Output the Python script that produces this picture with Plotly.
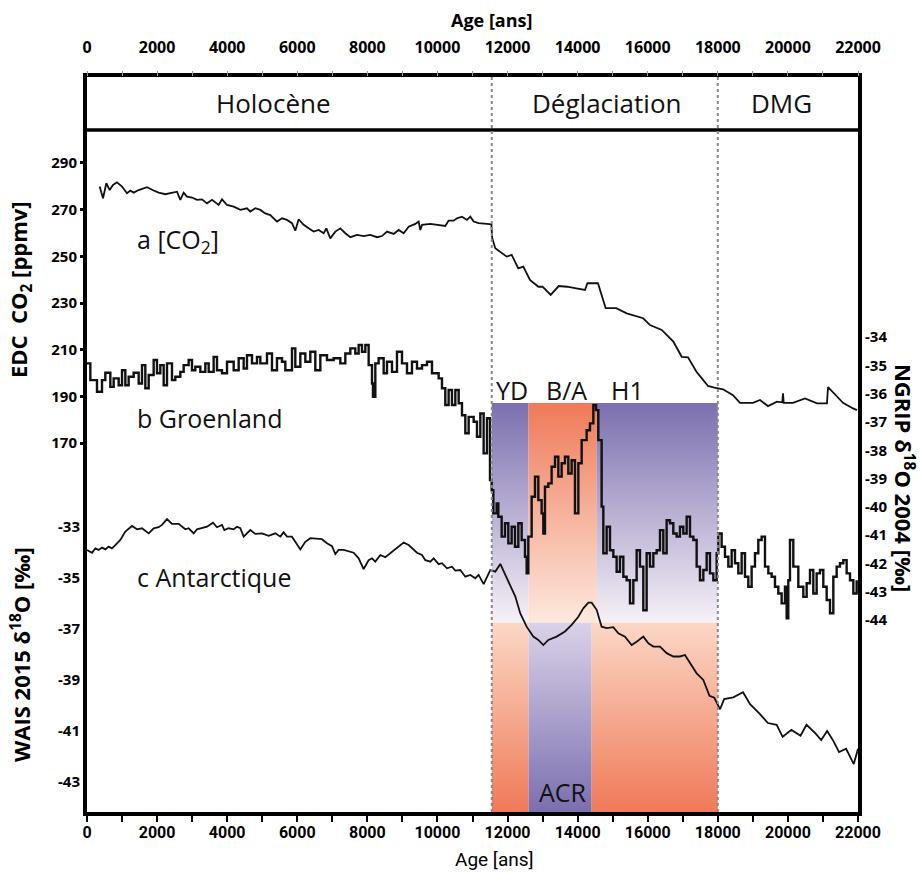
import plotly.graph_objects as go

# ---------------- data ----------------
co2_age = [361, 457, 552, 647, 742, 856, 999, 1141, 1236, 1332,
           1474, 1712, 1902, 2045, 2235, 2425, 2568, 2663, 2758, 2853,
           2996, 3139, 3281, 3424, 3567, 3757, 3852, 3995, 4185, 4375,
           4565, 4660, 4803, 4946, 5088, 5231, 5421, 5564, 5707, 5849,
           5944, 6039, 6182, 6325, 6467, 6610, 6753, 6829, 6943, 7086,
           7228, 7371, 7514, 7704, 7894, 8084, 8275, 8417, 8560, 8750,
           8893, 9035, 9178, 9368, 9463, 9511, 9559, 9796, 10082, 10224,
           10319, 10462, 10557, 10700, 10843, 10938, 11033, 11175, 11413, 11540,
           11560, 11650, 11976, 12118, 12307, 12450, 12640, 12880, 13000, 13230,
           13460, 13700, 14000, 14210, 14280, 14580, 14800, 15100, 15400, 15870,
           16065, 16400, 16730, 16970, 17150, 17390, 17580, 17720, 17900, 18148,
           18433, 18633, 19004, 19204, 19432, 19688, 19840, 19860, 19880, 20145,
           20487, 20830, 21115, 21144, 21401, 21572, 21858, 21972]
co2_ppm = [279.9, 274.9, 281.3, 278.4, 280.6, 281.7, 279.9, 277.0, 278.2, 277.3,
           278.4, 279.6, 278.2, 277.3, 276.6, 277.3, 277.7, 274.2, 277.3, 275.6,
           275.2, 274.2, 274.4, 272.7, 274.2, 272.0, 274.4, 272.0, 271.3, 269.9,
           270.6, 269.2, 270.6, 269.9, 268.4, 267.7, 264.9, 266.3, 265.6, 264.2,
           261.0, 265.9, 263.5, 262.0, 260.6, 261.3, 259.9, 262.0, 257.7, 260.6,
           262.0, 259.9, 258.2, 259.2, 258.7, 259.2, 258.2, 258.7, 260.6, 259.6,
           261.3, 259.9, 262.7, 263.9, 264.9, 261.3, 263.5, 263.9, 263.5, 263.0,
           265.3, 265.3, 266.3, 267.0, 265.6, 267.0, 264.9, 264.2, 263.9, 263.7,
           258.0, 253.5, 249.9, 250.6, 244.9, 245.6, 239.9, 237.0, 237.0, 233.5,
           237.3, 237.0, 236.2, 235.6, 238.5, 238.5, 227.8, 227.8, 225.6, 223.5,
           220.6, 218.5, 213.5, 207.0, 206.8, 200.6, 197.1, 194.5, 193.8, 193.1,
           190.6, 187.3, 187.3, 188.5, 185.9, 187.8, 187.5, 191.4, 187.3, 187.3,
           189.2, 187.1, 187.1, 194.0, 190.0, 187.3, 184.9, 184.2]

ngrip_age = [0, 95, 285, 428, 523, 666, 761, 904, 999, 1094,
             1189, 1332, 1474, 1569, 1664, 1760, 1902, 1997, 2092, 2188,
             2283, 2425, 2520, 2663, 2758, 2901, 2996, 3091, 3234, 3376,
             3472, 3614, 3709, 3852, 3995, 4185, 4328, 4470, 4565, 4708,
             4851, 4946, 5136, 5279, 5421, 5564, 5659, 5849, 5944, 6087,
             6230, 6372, 6515, 6658, 6848, 7038, 7228, 7371, 7514, 7656,
             7751, 7846, 7942, 8037, 8132, 8160, 8227, 8322, 8465, 8560,
             8703, 8845, 8988, 9131, 9273, 9416, 9559, 9701, 9844, 10034,
             10129, 10224, 10319, 10414, 10510, 10605, 10700, 10795, 10890, 11033,
             11128, 11223, 11318, 11413, 11499, 11547, 11594, 11689, 11737, 11832,
             11927, 12022, 12117, 12212, 12308, 12403, 12498, 12545, 12593, 12688,
             12783, 12878, 12973, 13021, 13068, 13164, 13258, 13354, 13449, 13544,
             13639, 13734, 13829, 13924, 14020, 14115, 14257, 14352, 14448, 14524,
             14590, 14685, 14733, 14828, 14923, 15018, 15113, 15208, 15304, 15399,
             15494, 15589, 15684, 15779, 15874, 15969, 16064, 16160, 16255, 16350,
             16445, 16540, 16635, 16730, 16825, 16920, 17015, 17111, 17206, 17301,
             17396, 17491, 17586, 17681, 17776, 17872, 17967, 18014, 18109, 18204,
             18300, 18395, 18490, 18585, 18680, 18775, 18870, 18965, 19060, 19155,
             19250, 19346, 19441, 19536, 19631, 19726, 19821, 19916, 19964, 20011,
             20059, 20154, 20297, 20440, 20535, 20630, 20725, 20820, 20915, 21010,
             21106, 21201, 21296, 21391, 21486, 21581, 21676, 21772, 21867, 21962]
ngrip_d18o = [-34.93, -35.52, -35.93, -35.52, -35.26, -35.76, -35.46, -35.70, -35.17, -35.70,
              -35.40, -35.26, -35.64, -34.99, -35.81, -35.34, -34.81, -35.28, -34.99, -35.70,
              -34.93, -35.52, -35.40, -35.23, -34.99, -34.81, -35.17, -35.05, -35.23, -34.93,
              -35.23, -34.70, -35.17, -35.28, -34.87, -35.17, -34.75, -35.11, -34.64, -34.93,
              -34.70, -34.93, -34.58, -35.17, -34.75, -34.87, -35.17, -34.40, -35.05, -34.58,
              -34.87, -34.52, -35.17, -34.64, -34.81, -34.75, -34.93, -34.58, -34.40, -34.58,
              -34.28, -34.52, -34.28, -34.99, -35.64, -36.11, -34.93, -34.75, -35.28, -34.87,
              -35.23, -34.52, -34.93, -35.28, -34.87, -35.11, -34.99, -34.87, -35.28, -35.46,
              -35.81, -36.40, -35.87, -36.40, -35.87, -36.34, -36.76, -37.40, -36.82, -36.99,
              -37.52, -36.70, -38.11, -36.87, -39.05, -39.41, -40.23, -39.88, -40.35, -41.05,
              -40.58, -41.29, -40.70, -41.41, -40.58, -41.17, -41.76, -42.35, -41.05, -39.64,
              -38.93, -39.76, -40.23, -40.94, -39.29, -39.17, -38.58, -38.23, -38.93, -38.46,
              -38.23, -38.82, -38.35, -40.23, -38.46, -37.64, -37.29, -37.05, -36.40, -36.58,
              -37.64, -39.99, -41.64, -40.70, -41.53, -41.76, -42.29, -41.76, -42.47, -42.59,
              -43.41, -42.59, -41.53, -42.11, -43.65, -41.64, -42.11, -41.64, -41.53, -40.82,
              -41.64, -40.47, -40.58, -40.94, -41.05, -40.70, -40.94, -40.35, -41.05, -41.17,
              -42.11, -42.59, -42.23, -41.64, -42.35, -42.59, -41.64, -40.94, -41.41, -41.76,
              -42.11, -41.53, -41.99, -42.35, -41.64, -42.47, -42.82, -42.11, -41.64, -41.17,
              -41.05, -42.11, -42.35, -42.47, -42.82, -43.06, -43.41, -42.82, -43.94, -42.59,
              -41.17, -42.11, -42.82, -43.18, -42.70, -42.23, -43.06, -42.35, -42.23, -42.82,
              -43.29, -43.76, -42.47, -42.11, -41.99, -41.88, -42.35, -42.59, -43.06, -42.59]

wais_age = [0, 143, 238, 333, 428, 523, 618, 713, 808, 951,
            1094, 1284, 1427, 1569, 1760, 1902, 2045, 2140, 2283, 2425,
            2616, 2806, 2901, 3044, 3139, 3281, 3424, 3595, 3709, 3852,
            3919, 4042, 4185, 4280, 4375, 4470, 4660, 4803, 4993, 5183,
            5374, 5516, 5611, 5707, 5849, 6087, 6230, 6372, 6563, 6705,
            6848, 6991, 7086, 7181, 7323, 7466, 7609, 7751, 7894, 8037,
            8132, 8227, 8370, 8512, 8655, 8845, 9035, 9178, 9321, 9416,
            9559, 9654, 9796, 9892, 10034, 10129, 10272, 10414, 10510, 10652,
            10795, 10938, 11080, 11175, 11318, 11413, 11508, 11651, 11794, 11937,
            12079, 12222, 12364, 12545, 12735, 12878, 13021, 13164, 13401, 13639,
            13829, 14020, 14162, 14305, 14400, 14543, 14685, 14828, 15018, 15161,
            15351, 15541, 15684, 15874, 16018, 16160, 16350, 16540, 16730, 16920,
            17063, 17206, 17396, 17586, 17762, 17900, 18063, 18180, 18440, 18720,
            18920, 19170, 19430, 19680, 19850, 20100, 20360, 20530, 20780, 20950,
            21120, 21300, 21460, 21660, 21880, 22000]
wais_d18o = [-33.90, -34.01, -33.84, -33.90, -33.81, -33.88, -33.77, -33.84, -33.71, -33.51,
             -33.18, -32.96, -33.09, -33.05, -33.25, -33.05, -33.01, -32.92, -32.69, -32.88,
             -32.88, -33.09, -33.05, -33.25, -33.09, -33.05, -32.99, -32.83, -33.01, -32.92,
             -33.12, -33.05, -33.09, -32.99, -33.05, -33.38, -33.12, -33.27, -33.25, -33.35,
             -33.25, -33.38, -33.21, -33.38, -33.38, -33.88, -33.58, -33.44, -33.47, -33.48,
             -33.64, -33.75, -34.06, -33.90, -33.90, -33.97, -34.01, -34.23, -34.65, -34.30,
             -34.23, -34.36, -34.10, -34.19, -34.03, -33.84, -33.61, -33.71, -33.90, -34.01,
             -34.10, -34.30, -34.36, -34.23, -34.46, -34.42, -34.62, -34.56, -34.71, -34.69,
             -34.95, -34.88, -35.01, -34.88, -35.24, -34.95, -34.69, -34.75, -34.45, -34.88,
             -35.27, -35.73, -36.39, -36.91, -37.30, -37.43, -37.63, -37.43, -37.30, -37.10,
             -36.84, -36.52, -36.19, -35.97, -35.97, -36.25, -36.91, -36.97, -36.93, -37.17,
             -37.30, -37.63, -37.50, -37.30, -37.56, -37.69, -37.69, -37.95, -38.08, -38.08,
             -38.02, -38.35, -38.74, -39.00, -39.62, -39.70, -40.15, -39.75, -39.68, -39.48,
             -39.95, -40.29, -40.69, -40.76, -41.23, -40.96, -41.19, -40.76, -41.09, -41.36,
             -41.00, -41.40, -41.83, -41.70, -42.30, -41.70]

age_ticks = [0, 2000, 4000, 6000, 8000, 10000, 12000, 14000, 16000, 18000, 20000, 22000]
age_tick_text = ["0", "2000", "4000", "6000", "8000", "10000", "12000", "14000",
                 "16000", "18000", "20000", "22000"]
co2_ticks = [170, 190, 210, 230, 250, 270, 290]
wais_ticks = [-43, -41, -39, -37, -35, -33]
wais_tick_text = ["-43", "-41", "-39", "-37", "-35", "-33"]
ngrip_ticks = [-44, -43, -42, -41, -40, -39, -38, -37, -36, -35, -34]
ngrip_tick_text = ["-44", "-43", "-42", "-41", "-40", "-39", "-38", "-37", "-36", "-35", "-34"]

period_names = ["Holocène", "Déglaciation", "DMG"]
period_bounds = [0, 11550, 18000, 22000]

greenland_names = ["YD", "B/A", "H1"]
greenland_bounds = [11550, 12600, 14550, 18000]
antarctic_names = ["", "ACR", ""]
antarctic_bounds = [11550, 12600, 14400, 18000]

# ---------------- styling ----------------
X_RANGE = [0, 22000]
CO2_RANGE = [12.1, 326.8]
WAIS_RANGE = [-44.18, -15.35]
NGRIP_RANGE = [-50.78, -24.81]

PURPLE = "rgb(123,111,175)"
ORANGE = "rgb(239,122,88)"


def to_co2(v, rng):
    """map a value of another y axis onto the base (CO2) axis"""
    f = (v - rng[0]) / (rng[1] - rng[0])
    return CO2_RANGE[0] + f * (CO2_RANGE[1] - CO2_RANGE[0])


G_TOP, G_BOT = to_co2(-36.33, NGRIP_RANGE), to_co2(-44.11, NGRIP_RANGE)
A_TOP, A_BOT = to_co2(-36.76, WAIS_RANGE), CO2_RANGE[0]

greenland_scales = [
    [[0, "rgb(247,241,247)"], [1, PURPLE]],
    [[0, "rgb(253,233,223)"], [1, ORANGE]],
    [[0, "rgb(247,241,247)"], [1, PURPLE]],
]
antarctic_scales = [
    [[0, ORANGE], [1, "rgb(251,215,197)"]],
    [[0, PURPLE], [1, "rgb(218,210,232)"]],
    [[0, ORANGE], [1, "rgb(251,215,197)"]],
]

fig = go.Figure()

for i in range(3):
    x0, x1 = greenland_bounds[i], greenland_bounds[i + 1]
    fig.add_trace(go.Scatter(
        x=[x0, x1, x1, x0, x0], y=[G_BOT, G_BOT, G_TOP, G_TOP, G_BOT],
        mode="lines", line=dict(width=0), fill="toself",
        fillgradient=dict(type="vertical", colorscale=greenland_scales[i]),
        hoverinfo="skip", showlegend=False))
for i in range(3):
    x0, x1 = antarctic_bounds[i], antarctic_bounds[i + 1]
    fig.add_trace(go.Scatter(
        x=[x0, x1, x1, x0, x0], y=[A_BOT, A_BOT, A_TOP, A_TOP, A_BOT],
        mode="lines", line=dict(width=0), fill="toself",
        fillgradient=dict(type="vertical", colorscale=antarctic_scales[i]),
        hoverinfo="skip", showlegend=False))

fig.add_trace(go.Scatter(x=co2_age, y=co2_ppm, mode="lines",
                         line=dict(color="#111", width=1.8), showlegend=False))
fig.add_trace(go.Scatter(x=wais_age, y=wais_d18o, mode="lines", yaxis="y2",
                         line=dict(color="#111", width=1.8), showlegend=False))
fig.add_trace(go.Scatter(x=ngrip_age, y=ngrip_d18o, mode="lines", yaxis="y3",
                         line=dict(color="#111", width=2.4, shape="hv"), showlegend=False))
fig.add_trace(go.Scatter(x=[0], y=[None], xaxis="x2", mode="lines",
                         showlegend=False, hoverinfo="skip"))

BOLD = dict(family="Open Sans, sans-serif", size=15, color="black", weight="bold")
TOP_BOLD = dict(family="Open Sans, sans-serif", size=16, color="black", weight="bold")
NARROW_BOLD = dict(family="Roboto, sans-serif", size=16, color="black", weight="bold")
LABEL = dict(family="Open Sans, sans-serif", size=25, color="#111")

fig.update_layout(
    width=924, height=873,
    margin=dict(l=87, r=66, t=77, b=61, autoexpand=False),
    plot_bgcolor="white", paper_bgcolor="white",
    xaxis=dict(range=X_RANGE, tickvals=age_ticks, ticktext=age_tick_text,
               showgrid=False, zeroline=False,
               showline=True, linewidth=4, linecolor="black", mirror=True,
               ticks="outside", ticklen=6, tickwidth=2, tickcolor="black",
               minor=dict(dtick=1000, tick0=0, ticks="outside", ticklen=6, tickwidth=2,
                          tickcolor="black", showgrid=False),
               tickfont=NARROW_BOLD, ticklabelstandoff=-3),
    xaxis2=dict(range=X_RANGE, overlaying="x", side="top", tickvals=age_ticks,
                ticktext=age_tick_text,
                showgrid=False, zeroline=False, showline=False,
                ticks="outside", ticklen=5, tickwidth=1, tickcolor="#999",
                minor=dict(dtick=1000, tick0=0, ticks="outside", ticklen=5, tickwidth=1,
                           tickcolor="#999", showgrid=False),
                tickfont=TOP_BOLD, ticklabelstandoff=12),
    yaxis=dict(range=CO2_RANGE, tickvals=co2_ticks, showgrid=False, zeroline=False,
               showline=True, linewidth=4, linecolor="black", mirror=True,
               ticks="outside", ticklen=3, tickwidth=3, tickcolor="black",
               tickfont=BOLD),
    yaxis2=dict(range=WAIS_RANGE, tickvals=wais_ticks, ticktext=wais_tick_text,
                overlaying="y", side="left",
                showgrid=False, zeroline=False, showline=False,
                ticks="outside", ticklen=3, tickwidth=3, tickcolor="black",
                tickfont=BOLD),
    yaxis3=dict(range=NGRIP_RANGE, tickvals=ngrip_ticks, ticktext=ngrip_tick_text,
                overlaying="y", side="right",
                showgrid=False, zeroline=False, showline=False,
                ticks="outside", ticklen=3, tickwidth=3, tickcolor="black",
                tickfont=BOLD),
)

shapes = []
shapes.append(dict(type="line", xref="paper", yref="paper", x0=0, x1=1,
                   y0=0.9279, y1=0.9279, line=dict(color="black", width=3.5)))
for b in period_bounds[1:-1]:
    shapes.append(dict(type="line", xref="x", yref="paper", x0=b, x1=b, y0=0, y1=1,
                       line=dict(color="#8a8a8a", width=2, dash="dot"), layer="above"))
fig.update_layout(shapes=shapes)


def note(text, x, y, xref="paper", font=LABEL, xanchor="center", angle=0):
    return dict(text=text, x=x, xref=xref, y=y, yref="paper", showarrow=False,
                xanchor=xanchor, yanchor="middle", textangle=angle, font=font)


ann = []
period_centers = [5331, 14829, 19831]
HEAD = dict(family="Open Sans, sans-serif", size=26, color="#111")
for name, xc in zip(period_names, period_centers):
    ann.append(note(name, xc, 0.9646, xref="x", font=HEAD))
ann.append(note("a [CO<sub>2</sub>]", 1370, 0.7769, xref="x", xanchor="left"))
ann.append(note("b Groenland", 1370, 0.5361, xref="x", xanchor="left"))
ann.append(note("c Antarctique", 1370, 0.3197, xref="x", xanchor="left"))
event_label_x = [12113, 13682, 15423]
for name, xc in zip(greenland_names, event_label_x):
    ann.append(note(name, xc, 0.5741, xref="x"))
ann.append(note(antarctic_names[1], 13582, 0.0272, xref="x"))
ann.append(note("Age [ans]", 0.524, 1.0776,
                font=dict(family="Open Sans, sans-serif", size=18, color="black", weight="bold")))
ann.append(note("Age [ans]", 0.528, -0.0640,
                font=dict(family="Roboto, sans-serif", size=19, color="black")))
TITLE = dict(family="Open Sans, sans-serif", size=22, color="black", weight="bold")
ann.append(note("EDC  CO<sub>2</sub> [ppmv]", -0.0869, 0.7102, font=TITLE, angle=-90))
ann.append(note("WAIS 2015 δ<sup>18</sup>O [‰]", -0.0869, 0.2136, font=TITLE, angle=-90))
ann.append(note("NGRIP δ<sup>18</sup>O 2004 [‰]", 1.061, 0.4544, font=TITLE, angle=90))
fig.update_layout(annotations=ann)

fig.write_html("out.html", config={"displayModeBar": False},
               post_script="document.body.style.margin='0';document.body.style.padding='0';")
